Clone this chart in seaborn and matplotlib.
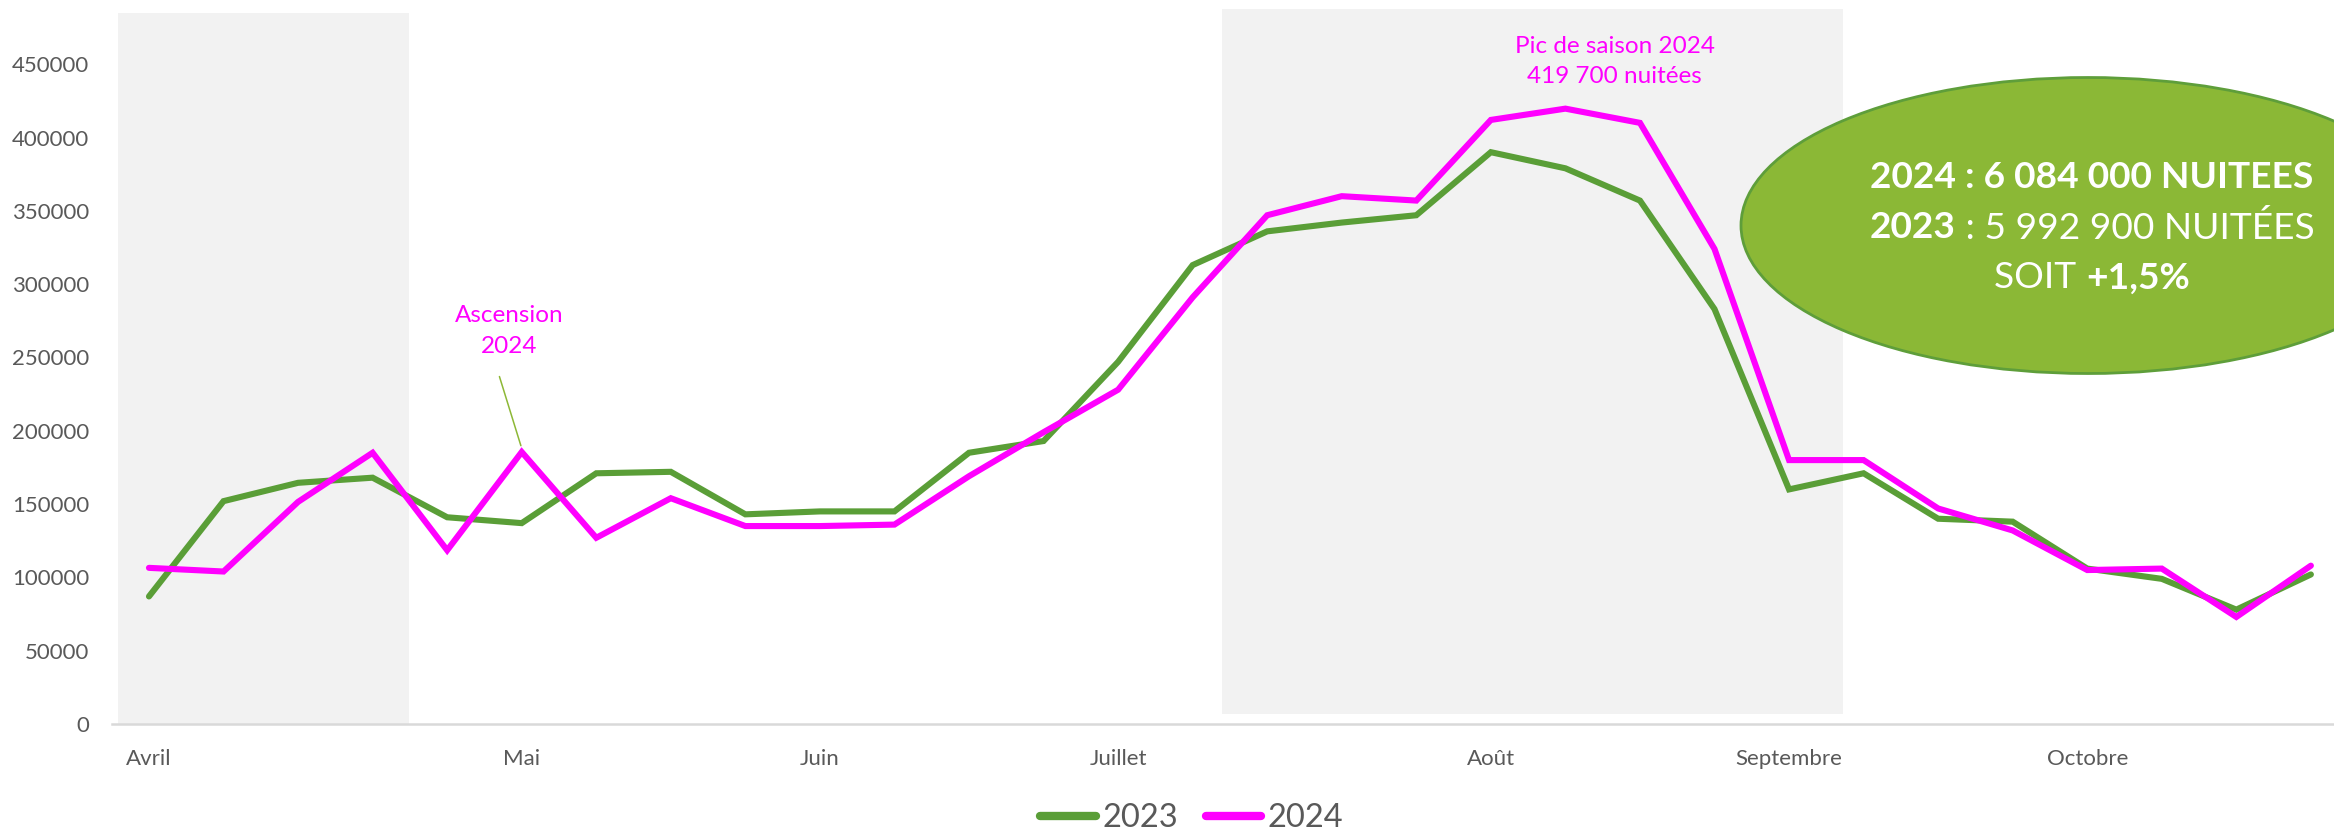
import numpy as np
import pandas as pd
import matplotlib
matplotlib.use("Agg")
import matplotlib.pyplot as plt
import seaborn as sns
from matplotlib.patches import Ellipse, Rectangle

# ---------------- data ----------------
weeks = list(range(30))
nuitees_2023 = [87000, 152000, 164500, 168000, 141000, 137000, 171000, 172000, 143000, 145000,
                145000, 185000, 193000, 247000, 313000, 336000, 342000, 347000, 390000, 379000,
                357000, 283000, 160000, 171000, 140000, 138000, 106000, 99000, 78000, 102000]
nuitees_2024 = [106500, 104000, 151500, 185000, 118500, 185500, 127000, 154000, 135000, 135000,
                136000, 169000, 199000, 228000, 291000, 347000, 360000, 357000, 412000, 419700,
                410000, 324000, 180000, 180000, 147000, 132000, 105000, 106000, 73000, 108000]
month_labels = ["Avril", "Mai", "Juin", "Juillet", "Août", "Septembre", "Octobre"]
month_weeks = [0, 5, 9, 13, 18, 22, 26]
years = ["2023", "2024"]
y_ticks = [0, 50000, 100000, 150000, 200000, 250000, 300000, 350000, 400000, 450000]

df = pd.DataFrame({
    "semaine": weeks * 2,
    "nuitees": nuitees_2023 + nuitees_2024,
    "annee": [years[0]] * len(weeks) + [years[1]] * len(weeks),
})

# ---------------- style ----------------
W, H = 2334, 832
sns.set_theme(style="white")
plt.rcParams['font.family'] = ['Lato', 'DejaVu Sans']
GREEN = "#5A9E37"
MAGENTA = "#FF00FF"
GRAY_TXT = "#595959"
BAND = "#F2F2F2"

fig = plt.figure(figsize=(W / 100, H / 100), dpi=100)
ax = fig.add_axes([111.7 / W, 108 / H, 1 - 111.7 / W, 724 / H])

# background bands
ax.add_patch(Rectangle((-0.41, 0), 3.90, 485000, facecolor=BAND, edgecolor="none", zorder=0))
ax.add_patch(Rectangle((14.4, 6600), 8.33, 481400, facecolor=BAND, edgecolor="none", zorder=0))

sns.lineplot(data=df, x="semaine", y="nuitees", hue="annee",
             palette={"2023": GREEN, "2024": MAGENTA}, linewidth=4.4, ax=ax,
             legend=False, zorder=3)
for ln in ax.lines:
    ln.set_solid_joinstyle("miter")

ax.set_xlim(-0.5, 29.31)
ax.set_ylim(0, 493800)
ax.set_xlabel("")
ax.set_ylabel("")
ax.set_xticks(month_weeks)
ax.set_xticklabels(month_labels)
ax.set_yticks(y_ticks)
ax.set_yticklabels([str(v) for v in y_ticks])
ax.tick_params(axis="both", length=0, labelsize=16, labelcolor=GRAY_TXT)
ax.tick_params(axis="y", pad=16)
ax.tick_params(axis="x", pad=18)
for s in ["top", "right", "left"]:
    ax.spines[s].set_visible(False)
ax.spines["bottom"].set_color("#D9D9D9")
ax.spines["bottom"].set_linewidth(1.8)
ax.grid(False)

# annotations
ax.annotate("", xy=(5.0, 188000), xytext=(4.69, 238800),
            arrowprops=dict(arrowstyle="-", color="#8DB836", lw=1.1), zorder=4)
ax.text(4.83, 268000, "Ascension\n2024", color=MAGENTA, fontsize=17.5, ha="center",
        va="center", linespacing=1.55)
ax.text(19.66, 452000, "Pic de saison 2024\n419 700 nuitées", color=MAGENTA, fontsize=17.5,
        ha="center", va="center", linespacing=1.55)

# ellipse with totals
ell = Ellipse((2088 / W, 1 - 225.5 / H), 694 / W, 296 / H, transform=fig.transFigure,
              facecolor="#8BB836", edgecolor="#5E9E3A", linewidth=2, zorder=5)
fig.patches.append(ell)

renderer = fig.canvas.get_renderer()


def centered_line(y_px, pieces, cx_px, size):
    texts = []
    for s, w in pieces:
        t = fig.text(0, 1 - y_px / H, s, fontsize=size, fontweight=w, color="white",
                     ha="left", va="center", zorder=6)
        texts.append(t)
    widths = [t.get_window_extent(renderer).width for t in texts]
    x = cx_px - sum(widths) / 2
    for t, wdt in zip(texts, widths):
        t.set_x(x / W)
        x += wdt


centered_line(177, [("2024 : 6 084 000 NUITEES", "bold")], 2092, 26.7)
centered_line(228, [("2023", "bold"), (" : 5 992 900 NUITÉES", "normal")], 2092, 26.7)
centered_line(278, [("SOIT ", "normal"), ("+1,5%", "bold")], 2092, 26.7)

# legend
handles = [plt.Line2D([], [], color=GREEN, lw=6, solid_capstyle="round"),
           plt.Line2D([], [], color=MAGENTA, lw=6, solid_capstyle="round")]
leg = fig.legend(handles, years, loc="center", bbox_to_anchor=(1192 / W, 1 - 818 / H),
                 ncol=2, frameon=False, fontsize=23.5, handlelength=1.7, handletextpad=0.2,
                 columnspacing=0.85, borderaxespad=0, borderpad=0)
for t in leg.get_texts():
    t.set_color(GRAY_TXT)

fig.savefig("out.png", dpi=100)
